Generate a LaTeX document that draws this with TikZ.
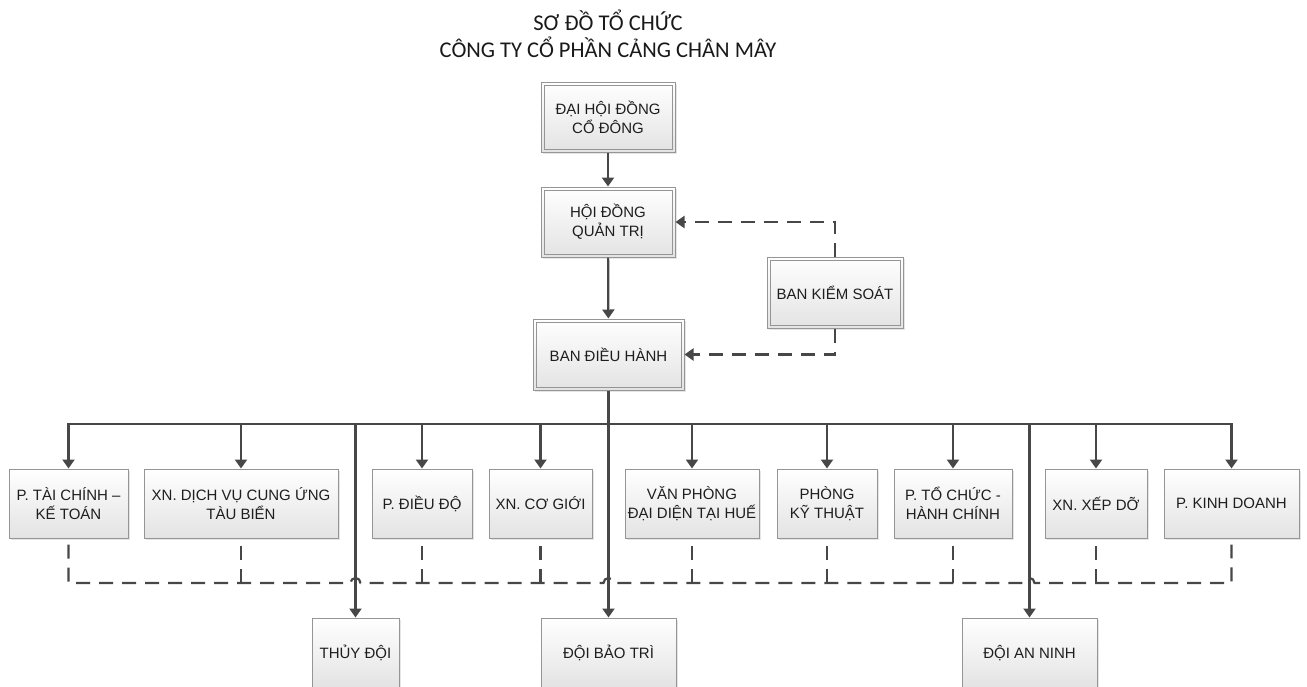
\documentclass[tikz,border=0pt]{standalone}
\usepackage{fontspec}
\setmainfont{Liberation Sans}
\newfontfamily\titlefont{Carlito}
\usetikzlibrary{arrows.meta,shadows,calc}
\definecolor{lineC}{HTML}{474747}
\definecolor{borderC}{HTML}{959595}
\definecolor{textC}{HTML}{1E1E1E}
\tikzset{
  box/.style={draw=borderC, line width=1pt, top color=white, bottom color=black!11,
    drop shadow={shadow xshift=2pt, shadow yshift=-2pt, opacity=0.25, fill=black!40},
    align=center, text=textC, inner sep=0pt,
    font=\fontsize{15}{19}\selectfont},
  conn/.style={draw=lineC, line width=2.2pt},
  arr/.style={conn, -{Triangle[width=12pt,length=9pt]}},
  dsh/.style={draw=lineC, line width=2.2pt, dash pattern=on 14pt off 9pt},
  innerline/.style={draw=borderC, line width=1pt}
}
\newcommand{\innerbox}[1]{\draw[innerline] ($(#1.north west)+(3.5,3.5)$) rectangle ($(#1.south east)+(-3.5,-3.5)$);}
\begin{document}
\begin{tikzpicture}[x=1pt,y=-1pt]
\useasboundingbox (0,0) rectangle (1307,686);
\begin{scope}
\clip (0,0) rectangle (1307,686);
% title
\node[align=center, text=black!90, font=\titlefont\fontsize{22.5}{27}\selectfont] (title) at (608,33.5) {SƠ ĐỒ TỔ CHỨC\\CÔNG TY CỔ PHẦN CẢNG CHÂN MÂY};
% top boxes
\node[box, minimum width=134pt, minimum height=70pt] (dh) at (608,117) {ĐẠI HỘI ĐỒNG\\CỔ ĐÔNG};
\node[box, minimum width=134pt, minimum height=70pt] (hd) at (608,222) {HỘI ĐỒNG\\QUẢN TRỊ};
\node[box, minimum width=151pt, minimum height=71pt] (bdh) at (608.5,354.5) {BAN ĐIỀU HÀNH};
\node[box, minimum width=136pt, minimum height=71pt] (bks) at (835,292.5) {BAN KIỂM SOÁT};
\innerbox{dh}\innerbox{hd}\innerbox{bdh}\innerbox{bks}
% second row
\node[box, minimum width=119pt, minimum height=69pt] (tc) at (68.5,503.5) {P. TÀI CHÍNH –\\KẾ TOÁN};
\node[box, minimum width=194pt, minimum height=69pt] (dv) at (241,503.5) {XN. DỊCH VỤ CUNG ỨNG\\TÀU BIỂN};
\node[box, minimum width=100pt, minimum height=69pt] (dd) at (422,503.5) {P. ĐIỀU ĐỘ};
\node[box, minimum width=103pt, minimum height=69pt] (cg) at (540.5,503.5) {XN. CƠ GIỚI};
\node[box, minimum width=134pt, minimum height=69pt] (vp) at (692,503.5) {VĂN PHÒNG\\ĐẠI DIỆN TẠI HUẾ};
\node[box, minimum width=100pt, minimum height=69pt] (kt) at (827,503.5) {PHÒNG\\KỸ THUẬT};
\node[box, minimum width=118pt, minimum height=69pt] (tchc) at (953,503.5) {P. TỔ CHỨC -\\HÀNH CHÍNH};
\node[box, minimum width=102pt, minimum height=69pt] (xd) at (1096,503.5) {XN. XẾP DỠ};
\node[box, minimum width=135pt, minimum height=69pt] (kd) at (1231.5,503.5) {P. KINH DOANH};
% third row
\node[box, minimum width=87pt, minimum height=70pt] (td) at (355.5,653) {THỦY ĐỘI};
\node[box, minimum width=135pt, minimum height=70pt] (bt) at (608.5,653) {ĐỘI BẢO TRÌ};
\node[box, minimum width=135pt, minimum height=70pt] (an) at (1029.5,653) {ĐỘI AN NINH};
% coordinates
\coordinate (bus) at (608,424);
\coordinate (dl) at (608,583);
% dashed horizontal with hops (ends turn up to the outer boxes)
\draw[dsh] ($(tc.south)+(0,6)$) -- (tc.south |- dl) -- ($(td.north |- dl)+(-5,0)$) arc[start angle=180,end angle=360,radius=5]
  -- ($(bt.north |- dl)+(-5,0)$) arc[start angle=180,end angle=360,radius=5]
  -- ($(an.north |- dl)+(-5,0)$) arc[start angle=180,end angle=360,radius=5]
  -- (kd.south |- dl) -- ($(kd.south)+(0,6)$);
\foreach \n in {dv,dd,cg,vp,kt,tchc,xd}{
  \draw[dsh] (\n.south |- dl) -- ($(\n.south)+(0,6)$);
}
% solid connectors
\draw[arr] (dh) -- (hd);
\draw[arr] (hd) -- (bdh);
\draw[arr] (bdh.south) -- (bt.north);
\draw[conn, {Triangle[width=12pt,length=9pt]}-{Triangle[width=12pt,length=9pt]}] (tc.north) -- (tc.north |- bus) -- (kd.north |- bus) -- (kd.north);
\foreach \n in {dv,dd,cg,vp,kt,tchc,xd}{
  \draw[arr] (\n.north |- bus) -- (\n.north);
}
\draw[arr] (td.north |- bus) -- (td.north);
\draw[arr] (an.north |- bus) -- (an.north);
% dashed from BKS
\draw[dsh, -{Triangle[width=12pt,length=9pt]}] (bks.north) -- (bks.north |- hd.east) -- (hd.east);
\draw[dsh, -{Triangle[width=12pt,length=9pt]}] (bks.south) -- (bks.south |- bdh.east) -- (bdh.east);
\end{scope}
\end{tikzpicture}
\end{document}
